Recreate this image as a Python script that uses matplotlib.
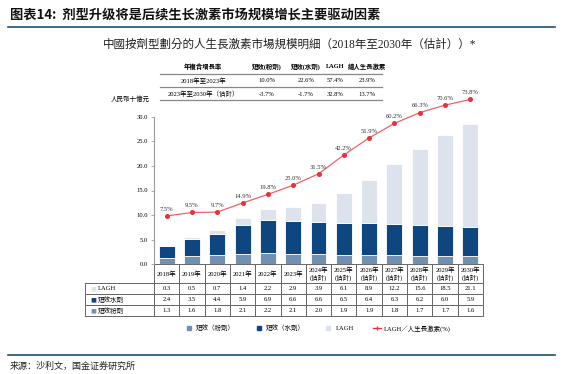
import matplotlib
matplotlib.use("Agg")
import matplotlib.pyplot as plt
import numpy as np
from matplotlib.lines import Line2D

plt.rcParams['font.family'] = ['Liberation Serif', 'Noto Sans CJK TC', 'Noto Sans CJK SC']
plt.rcParams['axes.unicode_minus'] = False

"""
Data
"""

years = ['2018年', '2019年', '2020年', '2021年', '2022年', '2023年',
         '2024年\n(估計)', '2025年\n(估計)', '2026年\n(估計)', '2027年\n(估計)',
         '2028年\n(估計)', '2029年\n(估計)', '2030年\n(估計)']
lagh = [0.3, 0.5, 0.7, 1.4, 2.2, 2.9, 3.9, 6.1, 8.9, 12.2, 15.6, 18.5, 21.1]
water = [2.4, 3.5, 4.4, 5.9, 6.9, 6.6, 6.6, 6.5, 6.4, 6.3, 6.2, 6.0, 5.9]
powder = [1.3, 1.6, 1.8, 2.1, 2.2, 2.1, 2.0, 1.9, 1.9, 1.8, 1.7, 1.7, 1.6]
lagh_share = [7.5, 9.5, 9.7, 14.9, 19.8, 25.0, 31.5, 42.2, 51.9, 60.2, 66.3, 70.6, 73.8]

cagr_header = ['年複合增長率', '短效(粉劑)', '短效(水劑)', 'LAGH', '總人生長激素']
cagr_rows = [['2018年至2023年', '10.0%', '22.6%', '57.4%', '23.9%'],
             ['2023年至2030年（估計）', '-3.7%', '-1.7%', '32.8%', '13.7%']]

c_powder = '#7191b3'
c_water = '#0e4680'
c_lagh = '#dce3ec'
c_red = '#e8313b'
c_rule = '#1d5277'

W, H = 563, 374
fig = plt.figure(figsize=(W / 100, H / 100), dpi=100)


def fx(px):
    return px / W


def fy(py):
    return 1 - py / H


"""
Header / footer
"""

fig.text(fx(10), fy(15), '图表14:  剂型升级将是后续生长激素市场规模增长主要驱动因素',
         fontsize=9.5, fontweight='bold', family=['Noto Sans CJK SC'], va='center', color='#111111')
fig.add_artist(Line2D([fx(8), fx(555)], [fy(27), fy(27)], color=c_rule, lw=1.2))
fig.text(fx(290), fy(45), '中國按劑型劃分的人生長激素市場規模明細（2018年至2030年（估計））*',
         fontsize=8.3, ha='center', va='center', color='#222222')
fig.add_artist(Line2D([fx(8), fx(555)], [fy(355), fy(355)], color=c_rule, lw=1.2))
fig.text(fx(10), fy(366), '来源：沙利文，国金证券研究所', fontsize=6.5,
         family=['Noto Sans CJK SC'], va='center', color='#222222')

# CAGR table
col_x = [203, 267, 306, 335, 367]
for x, t in zip(col_x, cagr_header):
    fig.text(fx(x), fy(67), t, fontsize=4.6, ha='center', va='center', fontweight='bold')
for row, yy in zip(cagr_rows, [81, 94]):
    for x, t in zip(col_x, row):
        fig.text(fx(x), fy(yy), t, fontsize=4.7, ha='center', va='center')
for yy in [74.3, 87.3, 100]:
    fig.add_artist(Line2D([fx(160), fx(382)], [fy(yy), fy(yy)], color='#888888', lw=0.9))

fig.text(fx(130), fy(99), '人民幣十億元', fontsize=4.7, ha='center', va='center')

"""
Bars and line
"""

ax = fig.add_axes([fx(154), fy(264.3), fx(483) - fx(154), (264.3 - 116.7) / H])
x = np.arange(len(years))
bw = 0.63
ax.bar(x, powder, bw, color=c_powder, edgecolor='white', linewidth=0.6, label='短效（粉劑）')
ax.bar(x, water, bw, bottom=powder, color=c_water, edgecolor='white', linewidth=0.6, label='短效（水劑）')
ax.bar(x, lagh, bw, bottom=np.array(powder) + np.array(water), color=c_lagh,
       edgecolor='white', linewidth=0.6, label='LAGH')

ax.set_xlim(-0.5, len(years) - 0.5)
ax.set_ylim(0, 30)
ax.set_yticks(np.arange(0, 31, 5))
ax.set_yticklabels(['%.1f' % v for v in np.arange(0, 31, 5)], fontsize=4.7)
ax.set_xticks([])
for s in ['top', 'right', 'bottom']:
    ax.spines[s].set_visible(False)
ax.spines['left'].set_color('#999999')
ax.tick_params(axis='y', length=2.5, width=0.6, color='#999999', pad=2)

ax2 = ax.twinx()
ax2.set_ylim(-20, 64)
ax2.plot(x, lagh_share, color='#f0606a', lw=0.9, marker='o', markersize=2.6,
         markerfacecolor=c_red, markeredgecolor=c_red, clip_on=False)
for xi, v in zip(x, lagh_share):
    ax2.annotate('%.1f%%' % v, (xi, v), xytext=(0, 3), textcoords='offset points',
                 ha='center', va='bottom', fontsize=4.7, color='#333333', annotation_clip=False)
ax2.set_yticks([])
for s in ax2.spines.values():
    s.set_visible(False)

"""
Data table under the axis
"""

cell_text = [['%.1f' % v for v in lagh],
             ['%.1f' % v for v in water],
             ['%.1f' % v for v in powder]]
row_names = ['LAGH', '短效水劑', '短效粉劑']
row_colors = [c_lagh, c_water, c_powder]

tot_h = 51.7 / 147.6
head_h = 18.7 / 51.7
row_h = 11.0 / 51.7
lab_w = 69 / 329
# the bbox holds only the data grid, the row-label column hangs to the left of it
tbl = ax.table(cellText=cell_text, colLabels=years,
               bbox=[0, -tot_h, 1, tot_h], cellLoc='center')
for r in range(1, 4):
    tbl.add_cell(r, -1, width=lab_w, height=row_h, text='')
tbl.auto_set_font_size(False)
tbl.set_fontsize(4.7)
for (r, c), cell in tbl.get_celld().items():
    cell.set_edgecolor('#666666')
    cell.set_linewidth(0.7)
    cell.set_height(head_h if r == 0 else row_h)
    cell.set_width(lab_w if c == -1 else 1 / 13)
    cell.get_text().set_fontfamily(['Liberation Serif', 'Noto Sans CJK TC'])

row_centres = [-(18.7 + 5.5) / 147.6, -(18.7 + 16.5) / 147.6, -(18.7 + 27.5) / 147.6]
for yc, name, col in zip(row_centres, row_names, row_colors):
    ax.text(-64 / 329, yc, '■', transform=ax.transAxes, color=col, fontsize=4.5,
            ha='left', va='center', family=['DejaVu Sans'])
    ax.text(-56 / 329, yc, name, transform=ax.transAxes, fontsize=4.7, ha='left', va='center')

# legend
handles = [Line2D([], [], marker='s', ls='none', color=c_powder, markersize=3.5),
           Line2D([], [], marker='s', ls='none', color=c_water, markersize=3.5),
           Line2D([], [], marker='s', ls='none', color=c_lagh, markersize=3.5),
           Line2D([], [], color=c_red, lw=1, marker='|', markersize=3)]
labels = ['短效（粉劑）', '短效（水劑）', 'LAGH', 'LAGH／人生長激素(%)']
fig.legend(handles, labels, loc='center', bbox_to_anchor=(fx(318), fy(328)), ncol=4,
           frameon=False, fontsize=4.7, handlelength=1.2, handletextpad=0.5, columnspacing=3.0)

fig.savefig('out.png', dpi=100)
